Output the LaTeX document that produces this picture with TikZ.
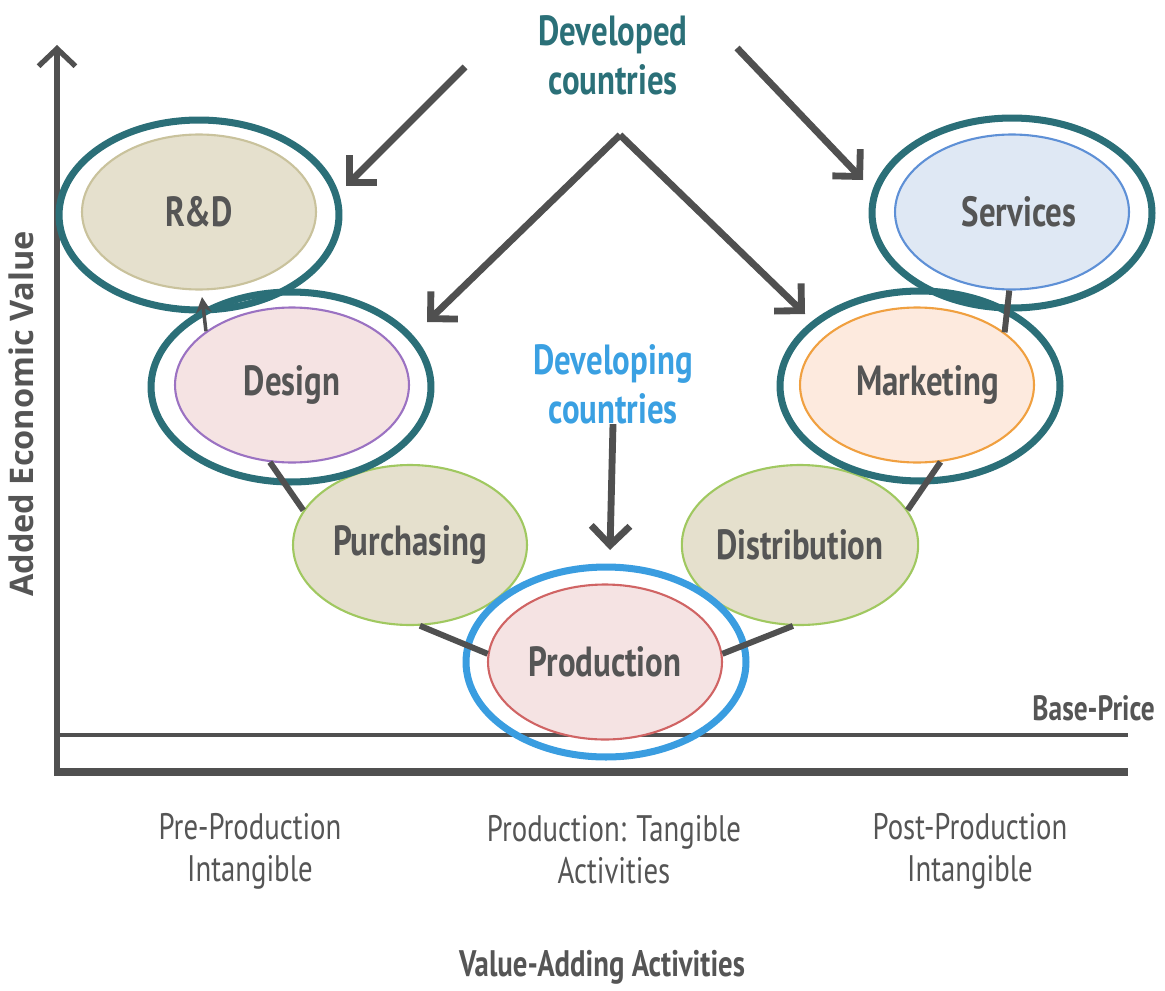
\documentclass[tikz,border=0pt]{standalone}
\usepackage{fontspec}
\setmainfont{PT Sans}
\newfontfamily\cond[FakeStretch=0.78]{PT Sans}
\newfontfamily\axisfont{Open Sans}
\usetikzlibrary{shapes.geometric,arrows.meta}
\definecolor{txtgray}{HTML}{555555}
\definecolor{linegray}{HTML}{505050}
\definecolor{ringteal}{HTML}{2B6F78}
\definecolor{ringblue}{HTML}{3A9DE0}
\definecolor{tealtext}{HTML}{2B7078}
\definecolor{bluetext}{HTML}{3AA0E2}
\definecolor{beigefill}{HTML}{E5E0CD}
\definecolor{beigeline}{HTML}{C9C29C}
\definecolor{pinkfill}{HTML}{F5E3E3}
\definecolor{purpleline}{HTML}{9B72C2}
\definecolor{redline}{HTML}{D06464}
\definecolor{bluefill}{HTML}{DFE8F4}
\definecolor{blueline}{HTML}{5E90D6}
\definecolor{peachfill}{HTML}{FDEADE}
\definecolor{orangeline}{HTML}{F0A040}
\definecolor{greenline}{HTML}{A0C860}
\begin{document}
\begin{tikzpicture}[x=0.02cm,y=-0.02cm,
  inner/.style={ellipse, inner sep=0pt, minimum width=4.68cm, minimum height=3.1cm,
    line width=1.2pt, text=txtgray, font=\cond\bfseries\fontsize{24}{28}\selectfont},
  ring/.style={ellipse, draw=ringteal, line width=4pt, inner sep=0pt,
    minimum width=5.6cm, minimum height=3.8cm},
  conn/.style={draw=linegray, line width=3.4pt},
  bigarrow/.style={draw=linegray, line width=3.9pt, -{Straight Barb[length=11pt,width=22pt]}},
  headline/.style={font=\cond\bfseries\fontsize{24}{28}\selectfont, align=center},
  bottomlabel/.style={font=\cond\fontsize{21}{24}\selectfont, text=txtgray, align=center}]
\useasboundingbox (0,0) rectangle (1165,990);
% axes
\coordinate (origin) at (57,772);
\coordinate (ytop) at (57,45);
\coordinate (xend) at (1128,772);
\coordinate (bpl) at (57,735);
\coordinate (bpr) at (1128,735);
\draw[linegray, line width=2.2pt] (bpl) -- (bpr);
\draw[linegray, line width=3pt, -{Straight Barb[length=10pt,width=21pt]}] (origin) -- (ytop);
\draw[linegray, line width=4.2pt] ([xshift=-1.5pt]origin) -- (xend);
% ellipses
\node[inner, fill=beigefill, draw=beigeline] (rd) at (199,212) {\raisebox{-4pt}{R\&D}};
\node[inner, fill=bluefill, draw=blueline] (serv) at (1012,212) {\hspace{8pt}Services};
\node[inner, fill=pinkfill, draw=purpleline] (design) at (292,385) {Design};
\node[inner, fill=peachfill, draw=orangeline] (mkt) at (917,385) {\hspace{12pt}Marketing};
\node[inner, fill=beigefill, draw=greenline, minimum height=3.2cm] (purch) at (410,545) {Purchasing};
\node[inner, fill=beigefill, draw=greenline, minimum height=3.2cm] (dist) at (800,545) {Distribution};
\node[inner, fill=pinkfill, draw=redline] (prod) at (605,662) {Production};
% rings
\node[ring] (rdR) at (199,215) {};
\node[ring] (servR) at (1012,213) {};
\node[ring] (designR) at (291,387) {};
\node[ring] (mktR) at (920,386) {};
\node[ring, draw=ringblue] (prodR) at (606,662) {};
% chain connectors
\draw[conn] (prod.176) -- (purch.277);
\draw[conn] (prod.4) -- (dist.265);
\draw[conn] (purch.162) -- (design.254);
\draw[conn] (dist.18) -- (mkt.287);
\draw[conn] (mkt.31) -- (serv.268);
\coordinate (rdtip) at (202,297);
\draw[draw=linegray, line width=2pt, -{Stealth[length=9pt,width=9pt]}] (design.148) -- (rdtip);
% texts
\node[headline, text=tealtext] (developed) at (613,55) {Developed\\countries};
\node[headline, text=bluetext] (developing) at (613,384) {Developing\\countries};
\coordinate (apex) at (620,135);
\coordinate (dev1s) at (465,67);
\coordinate (dev1e) at (346,186);
\coordinate (dev2s) at (737,48);
\coordinate (dev2e) at (863,180);
\coordinate (lowl) at (427,322);
\coordinate (lowr) at (805,314);
\draw[bigarrow] (dev1s) -- (dev1e);
\draw[bigarrow] (dev2s) -- (dev2e);
\draw[bigarrow] (apex) -- (lowl);
\draw[bigarrow] (apex) -- (lowr);
\draw[bigarrow] (developing.south) ++(0,-6) coordinate (devps) -- (610,550) coordinate (devpe);
\node[font=\cond\bfseries\fontsize{20}{24}\selectfont, text=txtgray, anchor=east] (base) at (1161,708) {Base-Price};
\node[font=\axisfont\bfseries\fontsize{18.5}{22}\selectfont, text=txtgray, rotate=90] (ylab) at (21,414) {Added Economic Value};
\node[bottomlabel] (pre) at (250,851) {Pre-Production\\Intangible};
\node[bottomlabel] (mid) at (614,850) {Production: Tangible\\Activities};
\node[bottomlabel] (post) at (970,851) {Post-Production\\Intangible};
\node[font=\cond\bfseries\fontsize{21}{24}\selectfont, text=txtgray] (xlab) at (602,967) {Value-Adding Activities};
\end{tikzpicture}
\end{document}
